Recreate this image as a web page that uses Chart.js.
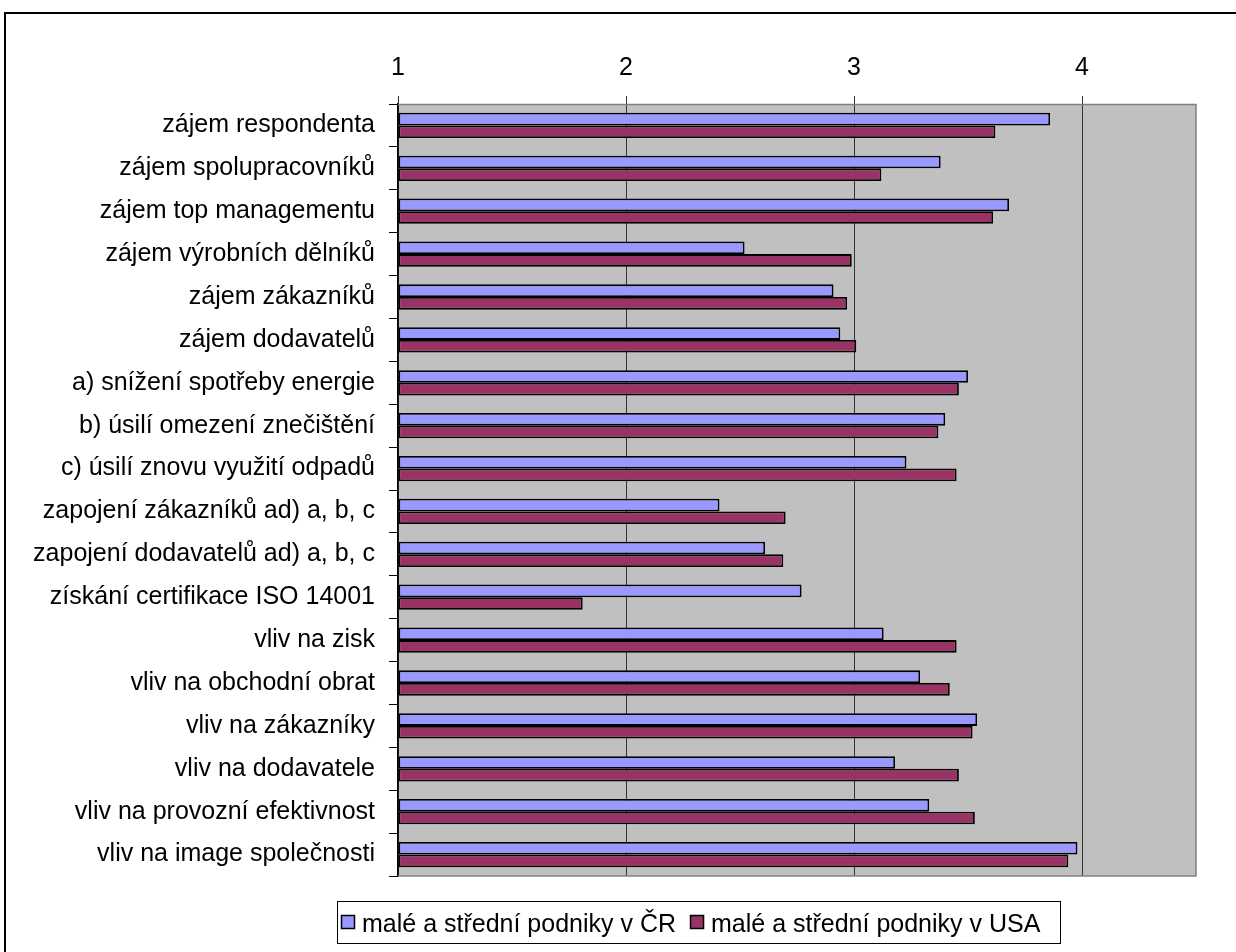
<!DOCTYPE html>
<html lang="cs">
<head>
<meta charset="utf-8">
<title>Graf</title>
<script src="https://cdn.jsdelivr.net/npm/chart.js@4.4.1/dist/chart.umd.min.js"></script>
<style>
  html, body { margin: 0; padding: 0; background: #fff; overflow: hidden; }
  #frame {
    position: absolute; left: 4px; top: 12px;
    width: 1300px; height: 1000px;
    border: 2px solid #000; box-sizing: border-box;
  }
  #chart { position: absolute; left: 0; top: 0; }
</style>
</head>
<body>
<div id="frame"></div>
<canvas id="chart" width="1236" height="952"></canvas>
<script>
// kategorie (osa Y)
var categories = [
    'zájem respondenta',
    'zájem spolupracovníků',
    'zájem top managementu',
    'zájem výrobních dělníků',
    'zájem zákazníků',
    'zájem dodavatelů',
    'a) snížení spotřeby energie',
    'b) úsilí omezení znečištění',
    'c) úsilí znovu využití odpadů',
    'zapojení zákazníků ad) a, b, c',
    'zapojení dodavatelů ad) a, b, c',
    'získání certifikace ISO 14001',
    'vliv na zisk',
    'vliv na obchodní obrat',
    'vliv na zákazníky',
    'vliv na dodavatele',
    'vliv na provozní efektivnost',
    'vliv na image společnosti'
];

var seriesNames = ['malé a střední podniky v ČR', 'malé a střední podniky v USA'];

// hodnoty
var valuesCR  = [3.86, 3.38, 3.68, 2.52, 2.91, 2.94, 3.50, 3.40, 3.23, 2.41, 2.61, 2.77, 3.13, 3.29, 3.54, 3.18, 3.33, 3.98];
var valuesUSA = [3.62, 3.12, 3.61, 2.99, 2.97, 3.01, 3.46, 3.37, 3.45, 2.70, 2.69, 1.81, 3.45, 3.42, 3.52, 3.46, 3.53, 3.94];

var axisTicks = [1, 2, 3, 4];

var FONT = "'Liberation Sans', Arial, sans-serif";

// šedé pozadí a rámeček plochy grafu
var plotAreaPlugin = {
    id: 'plotArea',
    beforeDraw: function(chart) {
        var a = chart.chartArea, ctx = chart.ctx;
        ctx.save();
        ctx.fillStyle = '#C0C0C0';
        ctx.fillRect(a.left, a.top, a.right - a.left, a.bottom - a.top);
        ctx.restore();
    },
    afterDraw: function(chart) {
        var a = chart.chartArea, ctx = chart.ctx;
        ctx.save();
        ctx.strokeStyle = '#808080';
        ctx.lineWidth = 1.5;
        ctx.beginPath();
        ctx.moveTo(a.left, a.top + 0.5);
        ctx.lineTo(a.right, a.top + 0.5);
        ctx.lineTo(a.right, a.bottom);
        ctx.lineTo(a.left, a.bottom);
        ctx.stroke();
        ctx.restore();
    }
};

// legenda v rámečku pod grafem
var boxLegendPlugin = {
    id: 'boxLegend',
    afterDraw: function(chart) {
        var ctx = chart.ctx;
        var boxX = 337, boxY = 901, boxW = 723, boxH = 42;
        ctx.save();
        ctx.fillStyle = '#fff';
        ctx.fillRect(boxX, boxY, boxW, boxH);
        ctx.strokeStyle = '#000';
        ctx.lineWidth = 1;
        ctx.strokeRect(boxX + 0.5, boxY + 0.5, boxW, boxH);

        ctx.font = '25px ' + FONT;
        ctx.textBaseline = 'alphabetic';
        var marker = 14, gap = 7, spacing = 14;
        var x = boxX + 4;
        chart.data.datasets.forEach(function(ds) {
            ctx.fillStyle = ds.backgroundColor;
            ctx.fillRect(x, 915, marker, marker);
            ctx.strokeStyle = '#000';
            ctx.lineWidth = 1.5;
            ctx.strokeRect(x + 0.5, 915.5, marker - 1, marker - 1);
            x += marker + gap;
            ctx.fillStyle = '#000';
            ctx.fillText(ds.label, x, 932);
            x += ctx.measureText(ds.label).width + spacing;
        });
        ctx.restore();
    }
};

new Chart(document.getElementById('chart'), {
    type: 'bar',
    data: {
        labels: categories,
        datasets: [{
            label: seriesNames[0],
            data: valuesCR,
            backgroundColor: '#9999FF',
            borderColor: '#000',
            borderWidth: 1.8,
            borderSkipped: false,
            base: 1
        }, {
            label: seriesNames[1],
            data: valuesUSA,
            backgroundColor: '#993366',
            borderColor: '#000',
            borderWidth: 1.8,
            borderSkipped: false,
            base: 1
        }]
    },
    options: {
        indexAxis: 'y',
        responsive: false,
        devicePixelRatio: 1,
        animation: false,
        layout: { padding: { left: 0, right: 40, top: 0, bottom: 76 } },
        datasets: { bar: { categoryPercentage: 0.59, barPercentage: 1 } },
        scales: {
            x: {
                position: 'top',
                min: 1,
                max: 4.5,
                afterBuildTicks: function(scale) {
                    scale.ticks = axisTicks.map(function(v) { return { value: v }; });
                },
                afterFit: function(scale) { scale.height = 104; },
                ticks: {
                    stepSize: 1,
                    color: '#000',
                    padding: 13,
                    font: { family: FONT, size: 25 }
                },
                grid: {
                    color: '#333',
                    lineWidth: 1,
                    drawTicks: true,
                    tickLength: 8,
                    tickColor: '#333'
                },
                border: { display: false }
            },
            y: {
                afterFit: function(scale) { scale.width = 398; },
                ticks: {
                    color: '#000',
                    padding: 14,
                    font: { family: FONT, size: 25 }
                },
                grid: {
                    offset: true,
                    drawOnChartArea: false,
                    drawTicks: true,
                    tickLength: 9,
                    color: '#000'
                },
                border: { display: true, color: '#000', width: 1.5 }
            }
        },
        plugins: {
            legend: { display: false },
            tooltip: { enabled: false }
        }
    },
    plugins: [plotAreaPlugin, boxLegendPlugin]
});
</script>
</body>
</html>
